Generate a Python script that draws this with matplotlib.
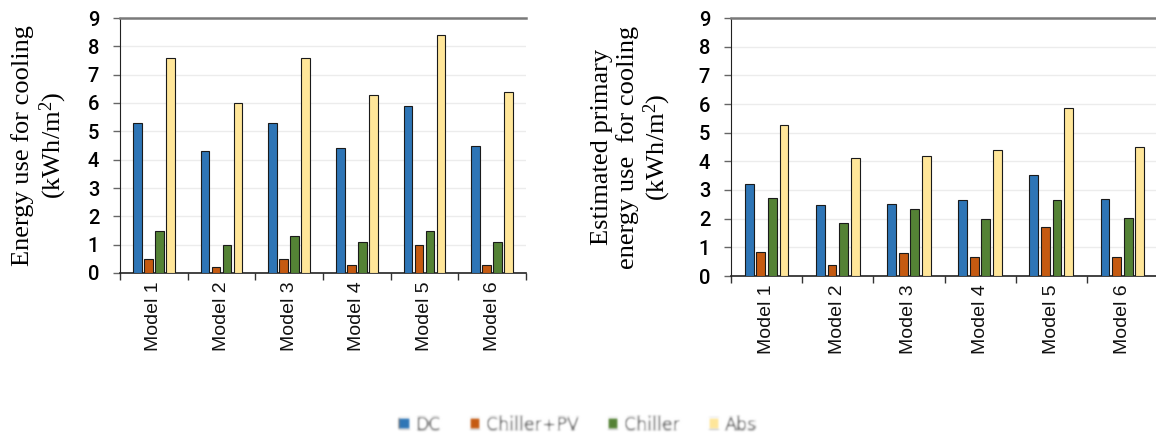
import numpy as np
import matplotlib.pyplot as plt
from matplotlib.patches import Patch

# Cooling energy per model (kWh/m2)
models = ['Model 1', 'Model 2', 'Model 3', 'Model 4', 'Model 5', 'Model 6']
systems = ['DC', 'Chiller+PV', 'Chiller', 'Abs']

use_dc = [5.3, 4.3, 5.3, 4.4, 5.9, 4.5]
use_chiller_pv = [0.5, 0.2, 0.5, 0.3, 1.0, 0.3]
use_chiller = [1.5, 1.0, 1.3, 1.1, 1.5, 1.1]
use_abs = [7.6, 6.0, 7.6, 6.3, 8.4, 6.4]

primary_dc = [3.2, 2.47, 2.52, 2.65, 3.52, 2.7]
primary_chiller_pv = [0.85, 0.4, 0.8, 0.65, 1.7, 0.68]
primary_chiller = [2.72, 1.85, 2.32, 1.98, 2.65, 2.02]
primary_abs = [5.28, 4.1, 4.2, 4.38, 5.85, 4.5]

colors = ['#2E75B6', '#C55A11', '#548235', '#FFE699']

# superscript in the axis titles set in the same serif face
plt.rcParams['mathtext.fontset'] = 'custom'
plt.rcParams['mathtext.rm'] = 'Liberation Serif'
plt.rcParams['mathtext.it'] = 'Liberation Serif'


def gauss_blur(sigma):
    """agg_filter that softens an artist with a small gaussian."""
    r = int(3 * sigma) + 1
    k = np.exp(-0.5 * (np.arange(-r, r + 1) / sigma) ** 2)
    k /= k.sum()

    def f(im, dpi):
        a = np.pad(im, ((r, r), (r, r), (0, 0)))
        out = np.zeros_like(a)
        for i, w in enumerate(k):
            out += w * np.roll(a, i - r, axis=0)
        a = out
        out = np.zeros_like(a)
        for i, w in enumerate(k):
            out += w * np.roll(a, i - r, axis=1)
        return out, -r, -r
    return f


def bar_panel(ax, series, ylabel):
    x = np.arange(len(models)) + 0.5
    pitch, width = 0.163, 0.125
    for j, vals in enumerate(series):
        ax.bar(x + (j - 1.5) * pitch, vals, width=width, color=colors[j],
               edgecolor='#1a1a1a', linewidth=0.8, zorder=3)
    ax.set_xlim(0, len(models))
    ax.set_ylim(0, 9)
    ax.set_yticks(range(10))
    ax.grid(axis='y', color='#ececec', linewidth=1, zorder=0)
    ax.set_xticks(range(len(models) + 1))
    ax.set_xticklabels([])
    ax.set_xticks(x, minor=True)
    ax.set_xticklabels(models, minor=True, rotation=90,
                       family='Liberation Sans', fontsize=14, color='#111111')
    ax.tick_params(axis='x', which='major', length=5, width=1, color='#333333')
    ax.tick_params(axis='x', which='minor', length=0, pad=6)
    ax.tick_params(axis='y', length=5, width=1, color='#666666', pad=10)
    for t in ax.get_yticklabels():
        t.set_family('Roboto')
        t.set_fontsize(14.5)
        t.set_fontweight('medium')
    ax.spines['right'].set_visible(False)
    ax.spines['top'].set_color('#7a7a7a')
    ax.spines['top'].set_linewidth(1.8)
    ax.spines['left'].set_color('#222222')
    ax.spines['bottom'].set_color('#222222')
    ax.spines['bottom'].set_linewidth(1.2)
    ax.set_ylabel(ylabel, family='Liberation Serif', fontsize=19,
                  linespacing=1.15)


W, H = 1156, 437
fig = plt.figure(figsize=(W / 100, H / 100), dpi=100)

ax1 = fig.add_axes([120 / W, 1 - 273 / H, 406 / W, 255 / H])
bar_panel(ax1, [use_dc, use_chiller_pv, use_chiller, use_abs],
          'Energy use for cooling\n(kWh/m$^{2}$)')
ax1.yaxis.set_label_coords(-0.125, 0.5)

ax2 = fig.add_axes([731 / W, 1 - 276 / H, 427 / W, 258 / H])
bar_panel(ax2, [primary_dc, primary_chiller_pv, primary_chiller, primary_abs],
          'Estimated primary\nenergy use  for cooling\n(kWh/m$^{2}$)')
ax2.yaxis.set_label_coords(-0.135, 0.5)

handles = [Patch(facecolor=c, edgecolor='none') for c in colors]
leg = fig.legend(handles, systems, loc='center', bbox_to_anchor=(0.5, 1 - 425 / H),
                 ncol=4, frameon=False, fontsize=12.5, handlelength=0.6,
                 handleheight=0.6, handletextpad=0.3, columnspacing=1.7,
                 labelcolor='#444444')
leg.set_agg_filter(gauss_blur(1.2))

fig.savefig('out.png', dpi=100)
